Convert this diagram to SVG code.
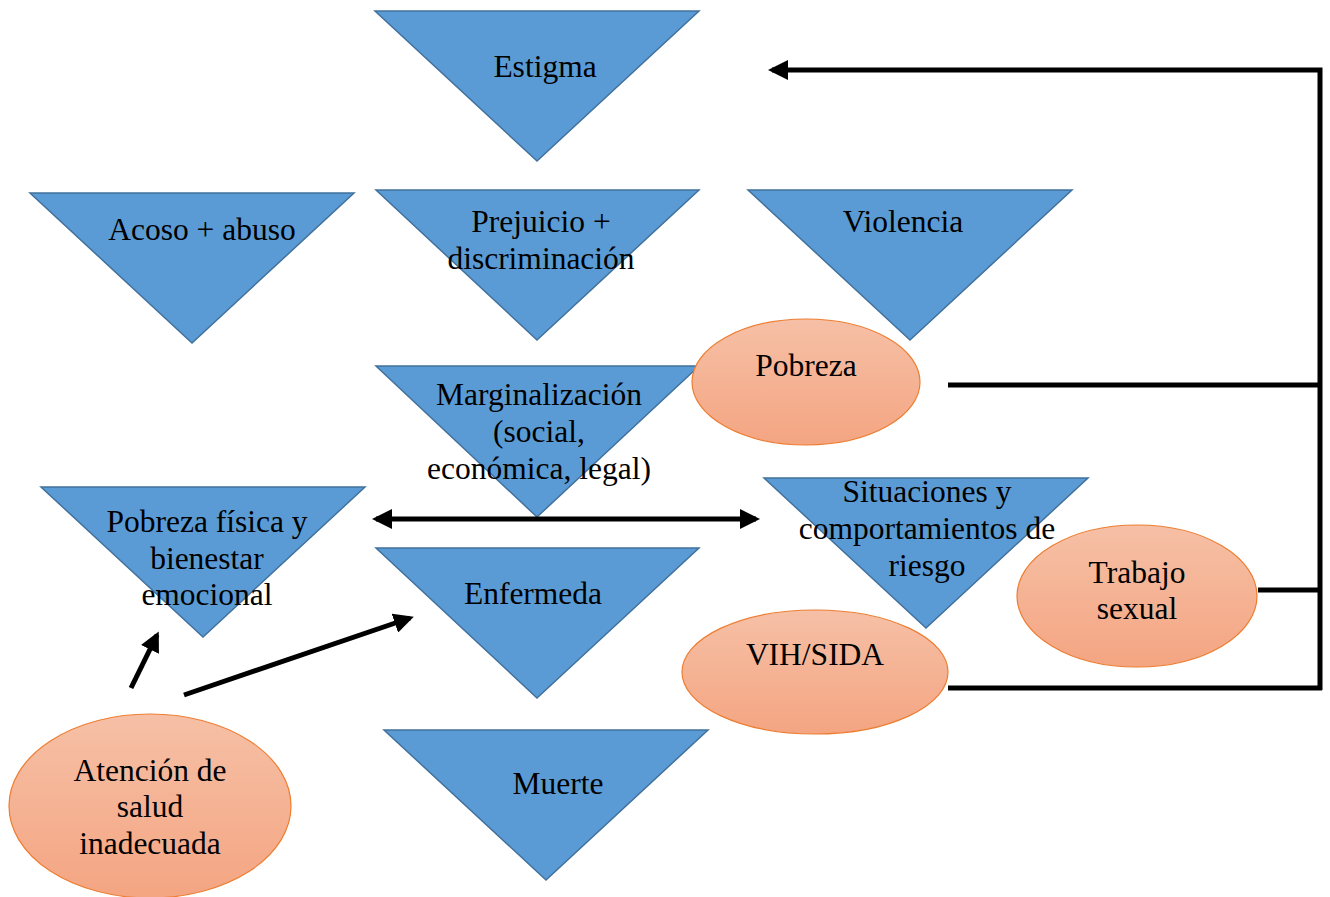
<svg xmlns="http://www.w3.org/2000/svg" width="1330" height="897" viewBox="0 0 1330 897">
<style>
.tri{fill:#5b9bd5;stroke:#41719c;stroke-width:1.5}
.ell{fill:url(#og);stroke:#ed7d31;stroke-width:1.2}
text{font-family:"Liberation Serif","Times New Roman",serif;font-size:31.5px;fill:#000;text-anchor:middle}
.ln{stroke:#000;stroke-width:5;fill:none}
</style>
<defs>
<linearGradient id="og" x1="0" y1="0" x2="0" y2="1">
<stop offset="0" stop-color="#f6c0a6"/>
<stop offset="1" stop-color="#f4a582"/>
</linearGradient>
<marker id="ah" viewBox="0 0 10 10" refX="8" refY="5" markerWidth="4" markerHeight="4" orient="auto-start-reverse" markerUnits="strokeWidth">
<path d="M0,0 L10,5 L0,10 Z" fill="#000"/>
</marker>
</defs>
<rect width="1330" height="897" fill="#fff"/>
<g id="estigma"><polygon class="tri" points="375,11 699,11 537,161"/><text x="545" y="77">Estigma</text></g>
<g id="acoso"><polygon class="tri" points="30,193 354,193 192,343"/><text x="202" y="240">Acoso + abuso</text></g>
<g id="prejuicio"><polygon class="tri" points="376,190 699,190 537,340"/><text x="541" y="232">Prejuicio +</text><text x="541" y="269">discriminación</text></g>
<g id="violencia"><polygon class="tri" points="748,190 1072,190 910,340"/><text x="903" y="232">Violencia</text></g>
<g id="marginalizacion"><polygon class="tri" points="376,366 699,366 537,517"/><text x="539" y="405">Marginalización</text><text x="539" y="442">(social,</text><text x="539" y="479">económica, legal)</text></g>
<g id="pobreza-fisica"><polygon class="tri" points="41,487 365,487 203,637"/><text x="207" y="532">Pobreza física y</text><text x="207" y="569">bienestar</text><text x="207" y="605">emocional</text></g>
<g id="enfermeda"><polygon class="tri" points="376,548 699,548 537,698"/><text x="533" y="604">Enfermeda</text></g>
<g id="situaciones"><polygon class="tri" points="764,478 1088,478 926,628"/><text x="927" y="502">Situaciones y</text><text x="927" y="539">comportamientos de</text><text x="927" y="576">riesgo</text></g>
<g id="muerte"><polygon class="tri" points="384,730 708,730 546,880"/><text x="558" y="794">Muerte</text></g>
<g id="pobreza"><ellipse class="ell" cx="806" cy="382" rx="114" ry="63"/><text x="806" y="376">Pobreza</text></g>
<g id="trabajo"><ellipse class="ell" cx="1137" cy="596" rx="120" ry="71"/><text x="1137" y="583">Trabajo</text><text x="1137" y="619">sexual</text></g>
<g id="vih"><ellipse class="ell" cx="815" cy="672" rx="133" ry="62"/><text x="815" y="665">VIH/SIDA</text></g>
<g id="atencion"><ellipse class="ell" cx="150" cy="806" rx="141" ry="92"/><text x="150" y="781">Atención de</text><text x="150" y="817">salud</text><text x="150" y="854">inadecuada</text></g>
<g id="connectors">
<polyline class="ln" points="1320,690 1320,70 772,70" marker-end="url(#ah)"/>
<line class="ln" x1="376" y1="519" x2="756" y2="519" marker-start="url(#ah)" marker-end="url(#ah)"/>
<line class="ln" x1="948" y1="385" x2="1320" y2="385"/>
<line class="ln" x1="1258" y1="590" x2="1320" y2="590"/>
<line class="ln" x1="948" y1="688" x2="1322" y2="688"/>
<line class="ln" x1="131" y1="688" x2="157" y2="635" marker-end="url(#ah)"/>
<line class="ln" x1="184" y1="695" x2="410" y2="618" marker-end="url(#ah)"/>
</g>
</svg>
